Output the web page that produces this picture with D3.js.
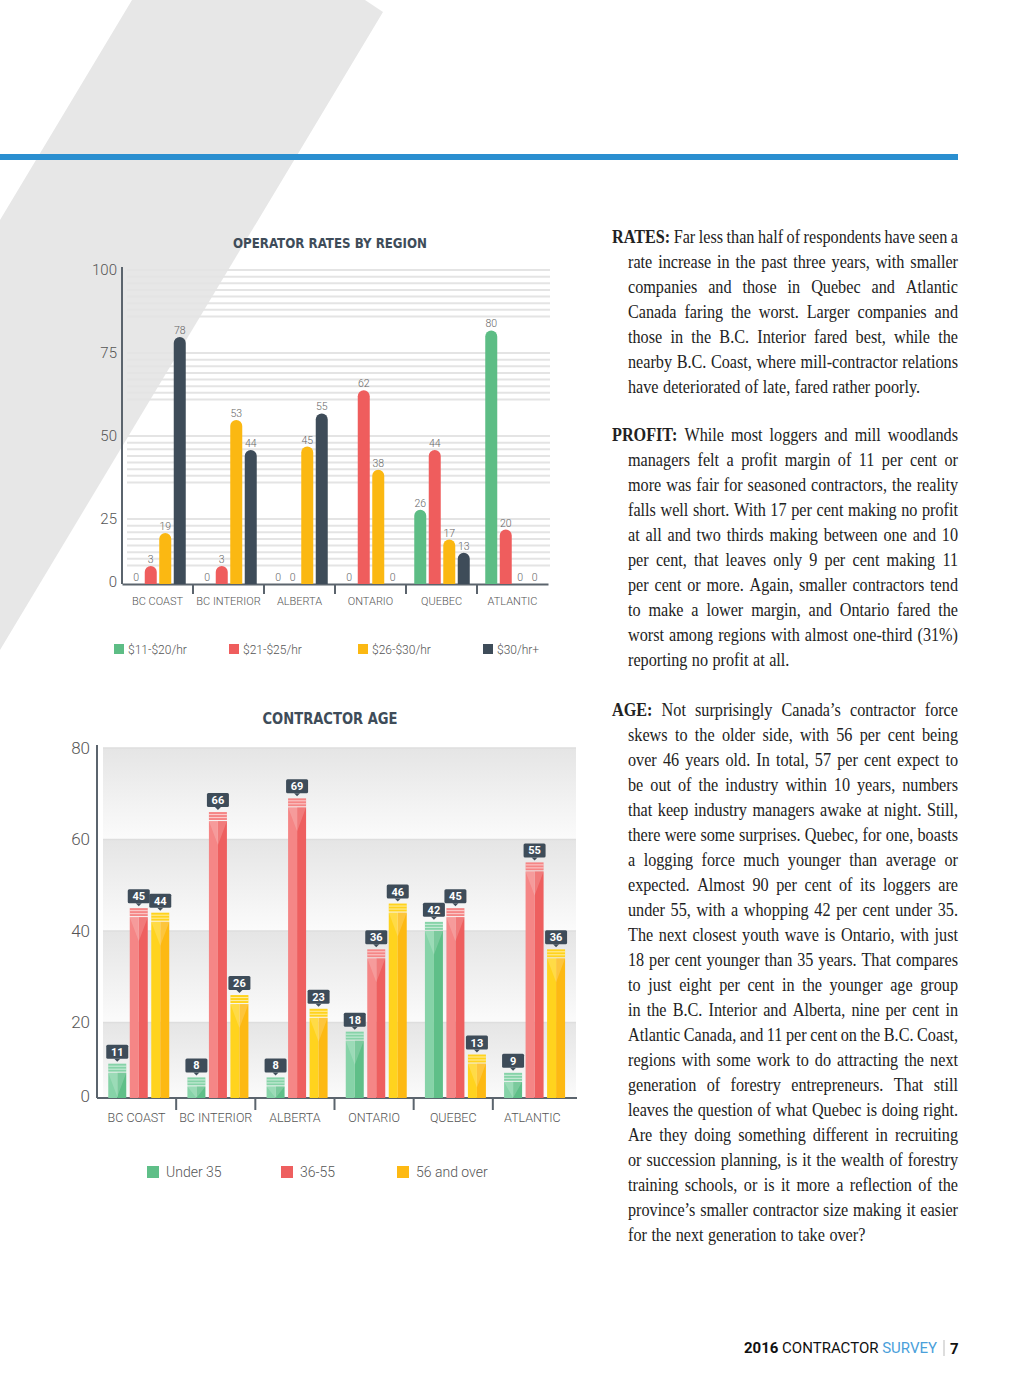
<!DOCTYPE html>
<meta charset="utf-8">
<style>
body { margin: 0; background: #fff; }
svg text { font-family: Roboto, 'DejaVu Sans', sans-serif; }
.title { font-family: 'DejaVu Sans Condensed', 'DejaVu Sans', sans-serif; font-weight: bold; fill: #3e4c59; }
.axisY text { font-weight: 300; fill: #555; }
.axisX text { font-weight: 300; fill: #555; }
.axisX line { display: none; }
.vlabel { font-weight: 300; fill: #666; font-size: 10.5px; }
.legend text { font-weight: 300; fill: #555; }
.body text { font-family: 'Liberation Serif', 'DejaVu Serif', serif; font-size: 18px; fill: #222; }
</style>

<svg id="page" width="1024" height="1393"></svg>

<script src="https://cdn.jsdelivr.net/npm/d3@7"></script>
<script>

// ---- data ----
const regions = ['BC COAST', 'BC INTERIOR', 'ALBERTA', 'ONTARIO', 'QUEBEC', 'ATLANTIC'];

const rateSeries = ['$11-$20/hr', '$21-$25/hr', '$26-$30/hr', '$30/hr+'];
const rate11to20 = [0, 0, 0, 0, 26, 80];
const rate21to25 = [3, 3, 0, 62, 44, 20];
const rate26to30 = [19, 53, 45, 38, 17, 0];
const rate30plus = [78, 44, 55, 0, 13, 0];
const rateTicks = [25, 50, 75, 100];

const ageSeries = ['Under 35', '36-55', '56 and over'];
const ageUnder35 = [11, 8, 8, 18, 42, 9];
const age36to55 = [45, 66, 69, 36, 45, 55];
const age56plus = [44, 26, 23, 46, 13, 36];
const ageTicks = [20, 40, 60, 80];

const rateColors = ['#5dbd85', '#ef5d5d', '#fbb812', '#3e4c59'];
const ageLight = ['#86d3a8', '#f58686', '#ffd31e'];
const ageDark = ['#5fbf88', '#ee5f5f', '#fdb913'];

const page = d3.select('#page');

// backdrop: grey slash and blue rule
page.append('polygon')
    .attr('points', '132,0 365,0 383,12 0,650 0,220')
    .attr('fill', '#e7e7e7');
page.append('rect')
    .attr('x', 0).attr('y', 154)
    .attr('width', 958).attr('height', 6)
    .attr('fill', '#2a8fd0');

// ================= chart 1: operator rates =================
rateChart();

function rateChart() {
    const g = page.append('g');
    const base = 584;
    const rateValues = [rate11to20, rate21to25, rate26to30, rate30plus];

    const x = d3.scaleBand().domain(regions).range([122, 548]);
    const xs = d3.scaleBand().domain(rateSeries).range([7, 65]);
    const y = d3.scaleLinear().domain([0, 100]).range([602, 270]);

    g.append('text')
        .attr('class', 'title')
        .attr('x', 330).attr('y', 248)
        .attr('text-anchor', 'middle')
        .attr('textLength', 194).attr('lengthAdjust', 'spacingAndGlyphs')
        .style('font-size', '14.5px')
        .text('OPERATOR RATES BY REGION');

    // eight thin rules under each tick
    const gridVals = rateTicks.flatMap(t => d3.range(8).map(k => t - 2 * k));
    g.selectAll('line.grid')
        .data(gridVals)
        .join('line')
            .attr('class', 'grid')
            .attr('x1', 127).attr('x2', 550)
            .attr('y1', d => y(d)).attr('y2', d => y(d))
            .attr('stroke', '#e4e4e4')
            .attr('stroke-width', 2);

    g.append('g')
        .attr('class', 'axisY')
        .attr('transform', 'translate(122,0)')
        .call(d3.axisLeft(y).tickValues(rateTicks).tickSize(0).tickPadding(5))
        .call(a => a.select('.domain').remove())
        .selectAll('text').style('font-size', '15px');

    g.append('text')
        .attr('x', 117).attr('y', base + 3)
        .attr('text-anchor', 'end')
        .style('font-size', '15px').style('font-weight', 300).style('fill', '#555')
        .text('0');

    g.append('line')
        .attr('x1', 122).attr('x2', 122)
        .attr('y1', 267).attr('y2', base)
        .attr('stroke', '#5b646d').attr('stroke-width', 2);

    g.append('g')
        .attr('class', 'axisX')
        .attr('transform', 'translate(0,' + base + ')')
        .call(d3.axisBottom(x).tickSize(0).tickSizeOuter(0).tickPadding(13))
        .call(a => a.select('.domain').attr('stroke', '#5b646d').attr('stroke-width', 2))
        .selectAll('text').style('font-size', '11px');

    g.selectAll('line.sep')
        .data(regions.slice(1))
        .join('line')
            .attr('x1', d => x(d)).attr('x2', d => x(d))
            .attr('y1', base).attr('y2', base + 10)
            .attr('stroke', '#5b646d').attr('stroke-width', 2);

    const rows = regions.flatMap((r, i) =>
        rateSeries.map((s, j) => ({ r: r, s: s, v: rateValues[j][i], c: rateColors[j] })));

    const rad = 6;
    const cx = d => x(d.r) + xs(d.s) + xs.bandwidth() / 2;
    const top = d => Math.min(y(d.v), base - 12);

    g.selectAll('path.bar')
        .data(rows.filter(d => d.v > 0))
        .join('path')
            .attr('class', 'bar')
            .attr('d', d => {
                const c = cx(d), t = top(d);
                return 'M' + (c - rad) + ',' + base + 'V' + t +
                       'A' + rad + ',' + rad + ' 0 0 1 ' + (c + rad) + ',' + t +
                       'V' + base + 'Z';
            })
            .attr('fill', d => d.c);

    g.selectAll('text.vlabel')
        .data(rows)
        .join('text')
            .attr('class', 'vlabel')
            .attr('x', cx)
            .attr('y', d => d.v > 0 ? top(d) - rad - 3 : base - 3)
            .attr('text-anchor', 'middle')
            .text(d => d.v);

    const legendX = [114, 229, 358, 483];
    const lg = g.append('g').attr('class', 'legend')
        .selectAll('g')
        .data(rateSeries)
        .join('g')
            .attr('transform', (d, i) => 'translate(' + legendX[i] + ',644)');
    lg.append('rect').attr('width', 10).attr('height', 10).attr('fill', (d, i) => rateColors[i]);
    lg.append('text').attr('x', 14).attr('y', 9.5).style('font-size', '12px').text(d => d);
}

// ================= chart 2: contractor age =================
ageChart();

function ageChart() {
    const g = page.append('g');
    const base = 1098;
    const ageValues = [ageUnder35, age36to55, age56plus];

    const x = d3.scaleBand().domain(regions).range([97, 572]);
    const xs = d3.scaleBand().domain(ageSeries).range([9.5, 74]);
    const y = d3.scaleLinear().domain([0, 80]).range([1114, 748]);

    g.append('text')
        .attr('class', 'title')
        .attr('x', 330).attr('y', 724)
        .attr('text-anchor', 'middle')
        .attr('textLength', 135).attr('lengthAdjust', 'spacingAndGlyphs')
        .style('font-size', '16.5px')
        .text('CONTRACTOR AGE');

    const defs = page.append('defs');
    const grad = defs.append('linearGradient')
        .attr('id', 'bandFill')
        .attr('x1', 0).attr('x2', 0).attr('y1', 0).attr('y2', 1);
    grad.append('stop').attr('offset', '0%').attr('stop-color', '#e5e5e5');
    grad.append('stop').attr('offset', '100%').attr('stop-color', '#fbfbfb');

    g.selectAll('rect.band')
        .data(ageTicks)
        .join('rect')
            .attr('class', 'band')
            .attr('x', 103).attr('width', 473)
            .attr('y', d => y(d))
            .attr('height', d => Math.min(y(d - 20), base) - y(d))
            .attr('fill', 'url(#bandFill)');

    g.selectAll('line.bandtop')
        .data(ageTicks)
        .join('line')
            .attr('x1', 103).attr('x2', 576)
            .attr('y1', d => y(d)).attr('y2', d => y(d))
            .attr('stroke', '#dedede').attr('stroke-width', 1.5);

    g.append('g')
        .attr('class', 'axisY')
        .attr('transform', 'translate(97,0)')
        .call(d3.axisLeft(y).tickValues(ageTicks).tickSize(0).tickPadding(7))
        .call(a => a.select('.domain').remove())
        .selectAll('text').style('font-size', '17px');

    g.append('text')
        .attr('x', 90).attr('y', base + 4)
        .attr('text-anchor', 'end')
        .style('font-size', '17px').style('font-weight', 300).style('fill', '#555')
        .text('0');

    g.append('line')
        .attr('x1', 97).attr('x2', 97)
        .attr('y1', 745).attr('y2', base)
        .attr('stroke', '#5b646d').attr('stroke-width', 2);

    g.append('g')
        .attr('class', 'axisX')
        .attr('transform', 'translate(0,' + base + ')')
        .call(d3.axisBottom(x).tickSize(0).tickSizeOuter(0).tickPadding(15))
        .call(a => a.select('.domain').attr('stroke', '#5b646d').attr('stroke-width', 2)
                    .attr('d', 'M97,0H577'))
        .selectAll('text').style('font-size', '12.5px');

    g.selectAll('line.sep')
        .data(regions.slice(1))
        .join('line')
            .attr('x1', d => x(d)).attr('x2', d => x(d))
            .attr('y1', base).attr('y2', base + 12)
            .attr('stroke', '#5b646d').attr('stroke-width', 2);

    const rows = regions.flatMap((r, i) =>
        ageSeries.map((s, j) => ({ r: r, s: s, v: ageValues[j][i], j: j })));

    const hw = 9;
    const cx = d => x(d.r) + xs(d.s) + xs.bandwidth() / 2;

    const bars = g.selectAll('g.bar')
        .data(rows)
        .join('g')
            .attr('class', 'bar');

    // striped cap
    bars.append('rect')
        .attr('x', d => cx(d) - hw).attr('width', hw * 2)
        .attr('y', d => y(d.v)).attr('height', 8)
        .attr('fill', d => ageLight[d.j]);
    [2.5, 5.5].forEach(off => {
        bars.append('line')
            .attr('x1', d => cx(d) - hw).attr('x2', d => cx(d) + hw)
            .attr('y1', d => y(d.v) + off).attr('y2', d => y(d.v) + off)
            .attr('stroke', '#fff').attr('stroke-opacity', 0.6).attr('stroke-width', 1);
    });

    // two-tone body
    bars.append('rect')
        .attr('x', d => cx(d) - hw).attr('width', hw)
        .attr('y', d => y(d.v) + 9).attr('height', d => base - y(d.v) - 9)
        .attr('fill', d => ageLight[d.j]);
    bars.append('rect')
        .attr('x', d => cx(d)).attr('width', hw)
        .attr('y', d => y(d.v) + 9).attr('height', d => base - y(d.v) - 9)
        .attr('fill', d => ageDark[d.j]);

    // chevron highlight
    bars.append('path')
        .attr('d', d => {
            const c = cx(d), t = y(d.v) + 9, depth = Math.min(24, base - t);
            return 'M' + (c - hw) + ',' + t + 'H' + (c + hw) + 'L' + c + ',' + (t + depth) + 'Z';
        })
        .attr('fill', '#fff').attr('fill-opacity', 0.18);

    // value tags
    bars.append('rect')
        .attr('x', d => cx(d) - 11).attr('width', 22)
        .attr('y', d => y(d.v) - 19).attr('height', 14)
        .attr('rx', 1.5)
        .attr('fill', '#3e4c59');
    bars.append('path')
        .attr('d', d => {
            const c = cx(d), t = y(d.v) - 5;
            return 'M' + (c - 3) + ',' + t + 'H' + (c + 3) + 'L' + c + ',' + (t + 3) + 'Z';
        })
        .attr('fill', '#3e4c59');
    bars.append('text')
        .attr('x', cx).attr('y', d => y(d.v) - 8)
        .attr('text-anchor', 'middle')
        .style('font-size', '11px').style('font-weight', 'bold').style('fill', '#fff')
        .text(d => d.v);

    const legendX = [147, 281, 397];
    const lg = g.append('g').attr('class', 'legend')
        .selectAll('g')
        .data(ageSeries)
        .join('g')
            .attr('transform', (d, i) => 'translate(' + legendX[i] + ',1166)');
    lg.append('rect').attr('width', 12).attr('height', 12).attr('fill', (d, i) => ageDark[i]);
    lg.append('text').attr('x', 19).attr('y', 11).style('font-size', '14px').text(d => d);
}

// ================= text column =================
const paragraphs = [
    { head: 'RATES:', y: 243, lines: [
        'Far less than half of respondents have seen a',
        'rate increase in the past three years, with smaller',
        'companies and those in Quebec and Atlantic',
        'Canada faring the worst. Larger companies and',
        'those in the B.C. Interior fared best, while the',
        'nearby B.C. Coast, where mill-contractor relations',
        'have deteriorated of late, fared rather poorly.'] },
    { head: 'PROFIT:', y: 441, lines: [
        'While most loggers and mill woodlands',
        'managers felt a profit margin of 11 per cent or',
        'more was fair for seasoned contractors, the reality',
        'falls well short. With 17 per cent making no profit',
        'at all and two thirds making between one and 10',
        'per cent, that leaves only 9 per cent making 11',
        'per cent or more. Again, smaller contractors tend',
        'to make a lower margin, and Ontario fared the',
        'worst among regions with almost one-third (31%)',
        'reporting no profit at all.'] },
    { head: 'AGE:', y: 716, lines: [
        'Not surprisingly Canada\u2019s contractor force',
        'skews to the older side, with 56 per cent being',
        'over 46 years old. In total, 57 per cent expect to',
        'be out of the industry within 10 years, numbers',
        'that keep industry managers awake at night. Still,',
        'there were some surprises. Quebec, for one, boasts',
        'a logging force much younger than average or',
        'expected. Almost 90 per cent of its loggers are',
        'under 55, with a whopping 42 per cent under 35.',
        'The next closest youth wave is Ontario, with just',
        '18 per cent younger than 35 years. That compares',
        'to just eight per cent in the younger age group',
        'in the B.C. Interior and Alberta, nine per cent in',
        'Atlantic Canada, and 11 per cent on the B.C. Coast,',
        'regions with some work to do attracting the next',
        'generation of forestry entrepreneurs. That still',
        'leaves the question of what Quebec is doing right.',
        'Are they doing something different in recruiting',
        'or succession planning, is it the wealth of forestry',
        'training schools, or is it more a reflection of the',
        'province\u2019s smaller contractor size making it easier',
        'for the next generation to take over?'] }
];

// condensed serif: squeeze glyphs horizontally, then justify word by word
const squeeze = 0.9;
const colRight = 958;
const col = page.append('g').attr('class', 'body')
    .attr('transform', 'scale(' + squeeze + ',1)');

paragraphs.forEach(p => {
    p.lines.forEach((ln, i) => {
        const x0 = i === 0 ? 612 : 628;
        const last = i === p.lines.length - 1;
        const words = ln.split(' ').map(w => ({ w: w, bold: false }));
        if (i === 0) words.unshift({ w: p.head, bold: true });

        const t = col.append('text').attr('y', p.y + i * 25);
        const spans = words.map(d => t.append('tspan')
            .style('font-weight', d.bold ? 'bold' : null)
            .text(d.w));
        const widths = spans.map(s => s.node().getComputedTextLength());
        const total = d3.sum(widths);
        const avail = (colRight - x0) / squeeze;
        const gap = last ? 5 : (avail - total) / (words.length - 1);

        let cur = x0 / squeeze;
        spans.forEach((s, k) => {
            s.attr('x', cur);
            cur += widths[k] + gap;
        });
    });
});

// ================= footer =================
const foot = page.append('text')
    .attr('x', 937).attr('y', 1353)
    .attr('text-anchor', 'end')
    .style('font-size', '15px')
    .style('fill', '#111');
foot.append('tspan').style('font-weight', 'bold').text('2016');
foot.append('tspan').text(' CONTRACTOR ');
foot.append('tspan').style('fill', '#4aa0da').text('SURVEY');
page.append('line')
    .attr('x1', 944).attr('x2', 944)
    .attr('y1', 1340).attr('y2', 1356)
    .attr('stroke', '#bbb').attr('stroke-width', 1);
page.append('text')
    .attr('x', 950).attr('y', 1354)
    .style('font-size', '15px').style('font-weight', 'bold').style('fill', '#111')
    .text('7');

</script>
